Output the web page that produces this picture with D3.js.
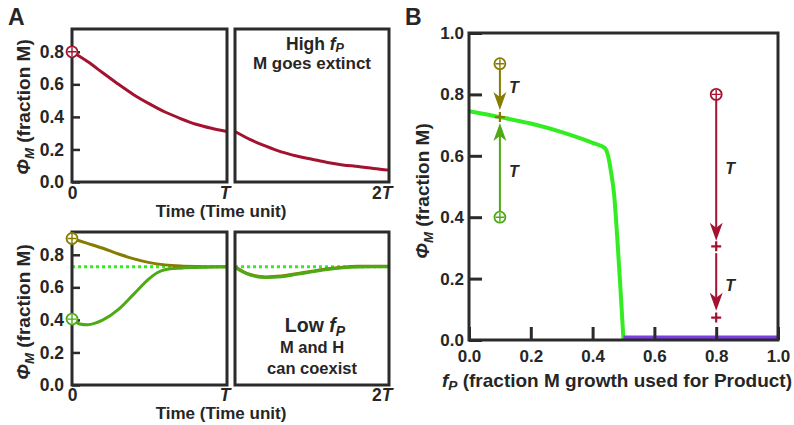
<!DOCTYPE html>
<html><head><meta charset="utf-8">
<script src="https://cdn.jsdelivr.net/npm/d3@7"></script>
<style>
body{margin:0;background:#fff}
text{font-family:"Liberation Sans",Arial,sans-serif;font-weight:bold;fill:#262626}
</style>
</head><body>
<svg id="chart" width="794" height="425"></svg>
<script>
// ---------------- data ----------------
// Panel A, high fP (time in units of T)
const timeHighL = [0,0.1,0.2,0.3,0.4,0.5,0.6,0.7,0.8,0.9,1.0];
const phiHighL  = [0.80,0.74,0.67,0.60,0.535,0.48,0.43,0.39,0.355,0.33,0.31];
const timeHighR = [1.0,1.1,1.2,1.3,1.4,1.5,1.6,1.7,1.8,1.9,2.0];
const phiHighR  = [0.31,0.26,0.22,0.185,0.16,0.14,0.12,0.105,0.095,0.083,0.073];
// Panel A, low fP
const timeLowOlive = [0,0.1,0.2,0.3,0.4,0.5,0.6,0.7,0.8,0.9,1.0];
const phiLowOlive  = [0.90,0.87,0.84,0.805,0.775,0.752,0.738,0.731,0.728,0.727,0.726];
const timeLowGreen = [0,0.05,0.1,0.15,0.2,0.3,0.4,0.5,0.55,0.6,0.7,0.8,0.9,1.0];
const phiLowGreen  = [0.405,0.375,0.37,0.38,0.40,0.465,0.56,0.655,0.69,0.708,0.718,0.722,0.725,0.726];
const timeLowR = [1.0,1.05,1.1,1.2,1.3,1.4,1.5,1.6,1.7,1.8,1.9,2.0];
const phiLowR  = [0.722,0.695,0.675,0.66,0.665,0.68,0.695,0.71,0.72,0.725,0.726,0.726];
const fixedPoint = 0.726;
const yTicksA = [0,0.2,0.4,0.6,0.8];
const xTicksAL = [0,1], xTicksAR = [2];
const xLabelsA = {0:"0",1:"T",2:"2T"};
// Panel B
const fP        = [0,0.1,0.2,0.3,0.4,0.44,0.45,0.46,0.47,0.48,0.49,0.5];
const phiSteady = [0.745,0.726,0.705,0.677,0.642,0.625,0.60,0.545,0.47,0.33,0.17,0.0];
const fPExtinct  = [0.5,1.0];
const phiExtinct = [0.008,0.008];
const ticksB = [0,0.2,0.4,0.6,0.8,1.0];
// trajectories in panel B: fP, start phi, arrow tip phi
const arrowsB = [
  {f:0.1, from:0.9,   to:0.749, c:"olive", circ:true},
  {f:0.1, from:0.4,   to:0.707, c:"green", circ:true},
  {f:0.8, from:0.8,   to:0.323, c:"red",   circ:true},
  {f:0.8, from:0.283, to:0.095, c:"red",   circ:false}
];
const startPointsB = [{f:0.1,phi:0.9,c:"olive"},{f:0.1,phi:0.4,c:"green"},{f:0.8,phi:0.8,c:"red"}];
const endPointsB = [{f:0.1,phi:fixedPoint,c:"olive"},{f:0.8,phi:0.305,c:"red"},{f:0.8,phi:0.073,c:"red"}];
const tLabelsB = [{f:0.145,phi:0.805},{f:0.145,phi:0.53},{f:0.845,phi:0.54},{f:0.845,phi:0.16}];

const COL = {red:"#a3122f", olive:"#857c00", green:"#4eaa14", bright:"#33ec22", purple:"#7a3ee2", frame:"#2b2b2b"};

// ---------------- drawing ----------------
const svg = d3.select("#chart");

const xL = d3.scaleLinear().domain([0,1]).range([72,227]);
const xR = d3.scaleLinear().domain([1,2]).range([235,389]);
const yTop = d3.scaleLinear().domain([0,0.94]).range([182,29]);
const yBot = d3.scaleLinear().domain([0,0.94]).range([385,232]);

const xB = d3.scaleLinear().domain([0,1]).range([469,778]);
const yB = d3.scaleLinear().domain([0,1]).range([340,33]);

function frame(x, y){
  svg.append("rect")
    .attr("x", x.range()[0]).attr("y", y.range()[1])
    .attr("width", x.range()[1]-x.range()[0]).attr("height", y.range()[0]-y.range()[1])
    .attr("fill","none").attr("stroke",COL.frame).attr("stroke-width",3);
}
function line(x, y, xs, ys, color, w){
  const pts = xs.map((d,i)=>[d, ys[i]]);
  return svg.append("path").datum(pts)
    .attr("d", d3.line().x(d=>x(d[0])).y(d=>y(d[1])).curve(d3.curveMonotoneX))
    .attr("fill","none").attr("stroke",color).attr("stroke-width",w);
}
function circlePlus(cx, cy, color, r){
  const g = svg.append("g").attr("transform",`translate(${cx},${cy})`);
  g.append("circle").attr("r",r).attr("fill","#fff").attr("stroke",color).attr("stroke-width",1.8);
  g.append("path").attr("d",`M${-r+1},0H${r-1}M0,${-r+1}V${r-1}`).attr("stroke",color).attr("stroke-width",1.4);
}
function plus(cx, cy, color){
  svg.append("path").attr("d",`M${cx-5},${cy}H${cx+5}M${cx},${cy-5}V${cy+5}`)
    .attr("stroke",color).attr("stroke-width",2.2);
}
function yAxisA(y){
  const g = svg.append("g").attr("transform",`translate(${xL.range()[0]},0)`)
    .call(d3.axisLeft(y).tickValues(yTicksA).tickSize(-8).tickPadding(8).tickFormat(d3.format(".1f")));
  g.select(".domain").remove();
  g.selectAll(".tick line").attr("stroke",COL.frame).attr("stroke-width",2.5);
  g.selectAll(".tick text").attr("font-size",17.5).attr("fill","#262626").attr("font-family",null);
}
function xAxisA(x, vals, yy){
  const g = svg.append("g").attr("transform",`translate(0,${yy})`)
    .call(d3.axisBottom(x).tickValues(vals).tickSize(0).tickPadding(0).tickFormat(d=>xLabelsA[d]));
  g.select(".domain").remove();
  g.selectAll(".tick text").attr("font-size",17.5).attr("fill","#262626").attr("font-family",null)
    .attr("dy","0.71em")
    .each(function(d){
      const s = xLabelsA[d];
      const t = d3.select(this);
      t.text("");
      if(d===0){ t.append("tspan").text(s); return; }
      t.attr("text-anchor","end").attr("dx",3);
      if(s.length>1) t.append("tspan").text(s.slice(0,-1));
      t.append("tspan").attr("font-style","italic").text("T");
    });
}
function phiLabel(cx, cy, size){
  const t = svg.append("text").attr("transform",`translate(${cx},${cy}) rotate(-90)`)
    .attr("text-anchor","middle").attr("font-size",size);
  t.append("tspan").attr("font-style","italic").text("Φ");
  t.append("tspan").attr("font-style","italic").attr("font-size",size*0.7).attr("dy",size*0.22).text("M");
  t.append("tspan").attr("dy",-size*0.22).text(" (fraction M)");
}
function fpText(x, y, pre, size, post, sub){
  const s = sub || 0.18;
  const t = svg.append("text").attr("x",x).attr("y",y).attr("font-size",size).attr("text-anchor","middle");
  if(pre) t.append("tspan").text(pre);
  t.append("tspan").attr("font-style","italic").text("f");
  t.append("tspan").attr("font-style","italic").attr("font-size",size*0.72).attr("dy",size*s).text("P");
  if(post) t.append("tspan").attr("dy",-size*s).text(post);
  return t;
}

// ----- Panel A top -----
line(xL, yTop, timeHighL, phiHighL, COL.red, 3);
line(xR, yTop, timeHighR, phiHighR, COL.red, 3);
frame(xL, yTop); frame(xR, yTop);
yAxisA(yTop);
xAxisA(xL, xTicksAL, 187); xAxisA(xR, xTicksAR, 187);
circlePlus(xL(0), yTop(phiHighL[0]), COL.red, 5.5);
fpText(315, 50, "High ", 17.5, null, 0.12);
svg.append("text").attr("x",312).attr("y",69).attr("font-size",17).attr("text-anchor","middle").text("M goes extinct");
svg.append("text").attr("x",221).attr("y",217).attr("font-size",17).attr("text-anchor","middle").text("Time (Time unit)");
phiLabel(30, 107, 19);

// ----- Panel A bottom -----
[xL, xR].forEach(x=>{
  svg.append("line").attr("x1",x.range()[0]).attr("x2",x.range()[1])
    .attr("y1",yBot(fixedPoint)).attr("y2",yBot(fixedPoint))
    .attr("stroke",COL.bright).attr("stroke-width",3).attr("stroke-dasharray","3,3");
});
line(xL, yBot, timeLowOlive, phiLowOlive, COL.olive, 3);
line(xL, yBot, timeLowGreen, phiLowGreen, COL.green, 3);
line(xR, yBot, timeLowR, phiLowR.map(v=>v+0.004), COL.olive, 3);
line(xR, yBot, timeLowR, phiLowR, COL.green, 3);
frame(xL, yBot); frame(xR, yBot);
yAxisA(yBot);
xAxisA(xL, xTicksAL, 389); xAxisA(xR, xTicksAR, 389);
circlePlus(xL(0), yBot(phiLowOlive[0]), COL.olive, 5.5);
circlePlus(xL(0), yBot(phiLowGreen[0]), COL.green, 5.5);
fpText(315, 332, "Low ", 19.5);
svg.append("text").attr("x",312).attr("y",353).attr("font-size",16.5).attr("text-anchor","middle").text("M and H");
svg.append("text").attr("x",312).attr("y",374).attr("font-size",16.5).attr("text-anchor","middle").text("can coexist");
svg.append("text").attr("x",221).attr("y",419).attr("font-size",17).attr("text-anchor","middle").text("Time (Time unit)");
phiLabel(30, 312, 19);

svg.append("text").attr("x",8).attr("y",25).attr("font-size",23).attr("fill","#000").text("A");
svg.append("text").attr("x",405).attr("y",25).attr("font-size",23).attr("fill","#000").text("B");

// ----- Panel B -----
line(xB, yB, fP, phiSteady, COL.bright, 4);
line(xB, yB, fPExtinct, phiExtinct, COL.purple, 4);

const gx = svg.append("g").attr("transform",`translate(0,${yB(0)})`)
  .call(d3.axisBottom(xB).tickValues(ticksB).tickSize(-13).tickPadding(10).tickFormat(d3.format(".1f")));
gx.select(".domain").remove();
gx.selectAll(".tick line").attr("stroke",COL.frame).attr("stroke-width",3);
gx.selectAll(".tick text").attr("font-size",17).attr("fill","#262626").attr("font-family",null);
const gy = svg.append("g").attr("transform",`translate(${xB(0)},0)`)
  .call(d3.axisLeft(yB).tickValues(ticksB).tickSize(-13).tickPadding(5).tickFormat(d3.format(".1f")));
gy.select(".domain").remove();
gy.selectAll(".tick line").attr("stroke",COL.frame).attr("stroke-width",3);
gy.selectAll(".tick text").attr("font-size",17).attr("fill","#262626").attr("font-family",null);
frame(xB, yB);

// trajectories
arrowsB.forEach(a=>{
  const c = COL[a.c];
  const x = xB(a.f), y0 = yB(a.from), y1 = yB(a.to);
  const dir = Math.sign(y1-y0);
  const start = a.circ ? y0 + dir*5.5 : y0;
  const headL = 18, headW = 6.5, notch = 5;
  svg.append("line").attr("x1",x).attr("x2",x).attr("y1",start).attr("y2",y1 - dir*(headL-notch))
    .attr("stroke",c).attr("stroke-width",2);
  svg.append("path")
    .attr("d",`M${x},${y1}L${x-headW},${y1-dir*headL}L${x},${y1-dir*(headL-notch)}L${x+headW},${y1-dir*headL}Z`)
    .attr("fill",c);
});
startPointsB.forEach(s=>circlePlus(xB(s.f), yB(s.phi), COL[s.c], 5.5));
endPointsB.forEach(s=>plus(xB(s.f), yB(s.phi), COL[s.c]));
tLabelsB.forEach(t=>svg.append("text").attr("x",xB(t.f)).attr("y",yB(t.phi))
  .attr("font-size",16).attr("font-style","italic").attr("text-anchor","middle").text("T"));

phiLabel(429, 191, 19);
fpText(617, 387, "", 19, " (fraction M growth used for Product)");
</script>
</body></html>
